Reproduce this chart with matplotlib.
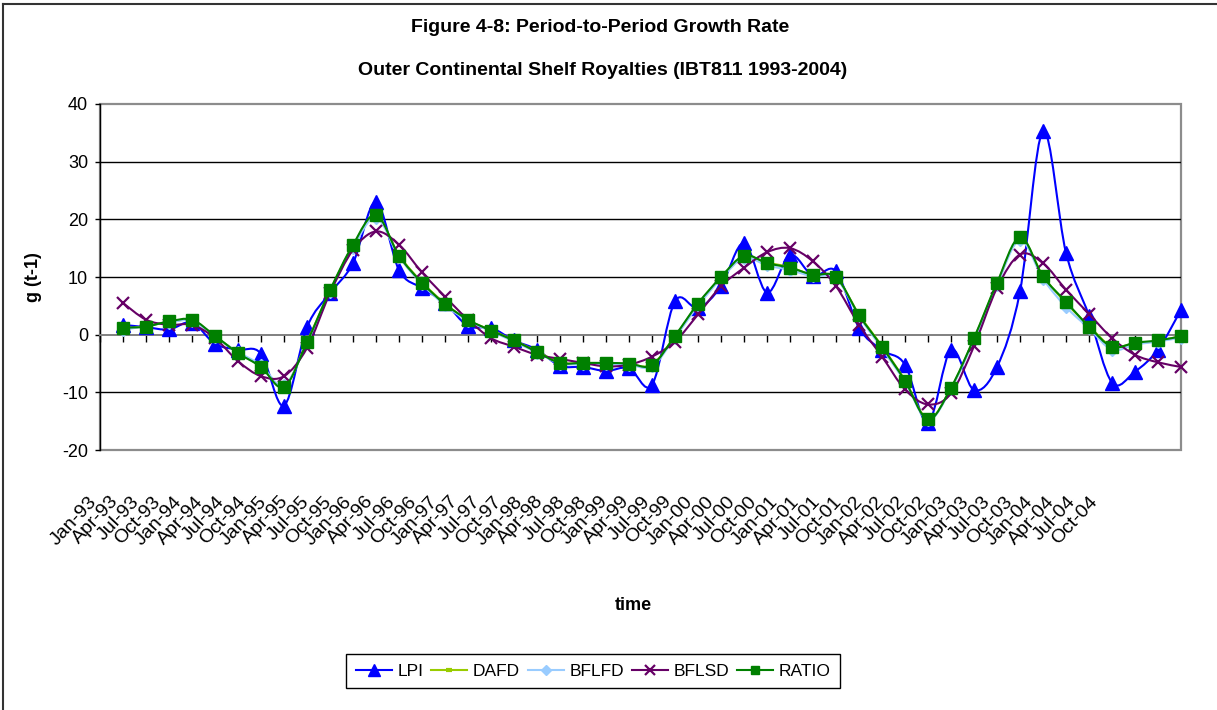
import numpy as np
import matplotlib
matplotlib.use("Agg")
import matplotlib.pyplot as plt
from matplotlib.path import Path
from matplotlib.patches import PathPatch, Rectangle
from matplotlib.lines import Line2D

# ---- data -------------------------------------------------------------
quarters = [
    "Jan-93", "Apr-93", "Jul-93", "Oct-93", "Jan-94", "Apr-94", "Jul-94", "Oct-94",
    "Jan-95", "Apr-95", "Jul-95", "Oct-95", "Jan-96", "Apr-96", "Jul-96", "Oct-96",
    "Jan-97", "Apr-97", "Jul-97", "Oct-97", "Jan-98", "Apr-98", "Jul-98", "Oct-98",
    "Jan-99", "Apr-99", "Jul-99", "Oct-99", "Jan-00", "Apr-00", "Jul-00", "Oct-00",
    "Jan-01", "Apr-01", "Jul-01", "Oct-01", "Jan-02", "Apr-02", "Jul-02", "Oct-02",
    "Jan-03", "Apr-03", "Jul-03", "Oct-03", "Jan-04", "Apr-04", "Jul-04", "Oct-04",
]

# growth rates start with the second quarter (Apr-93)
lpi = [1.7, 1.3, 0.9, 2.1, -1.6, -2.6, -3.3, -12.3, 1.3, 7.2, 12.4, 23.0,
       11.2, 8.1, 5.5, 1.5, 1.2, -1.0, -2.6, -5.4, -5.6, -6.3, -5.8, -8.7,
       5.8, 4.6, 8.4, 15.9, 7.3, 13.8, 10.2, 11.0, 1.2, -2.7, -5.2, -15.3,
       -2.6, -9.6, -5.6, 7.5, 35.3, 14.2, 3.3, -8.3, -6.4, -2.6, 4.3]
dafd = [1.0, 1.5, 2.2, 2.5, -0.3, -3.1, -5.5, -9.0, -1.2, 7.6, 15.4, 20.6,
        13.8, 9.1, 5.4, 2.5, 0.8, -1.0, -2.9, -4.8, -5.0, -4.9, -5.1, -5.2,
        -0.3, 5.3, 9.9, 13.5, 12.5, 11.7, 10.3, 9.9, 3.5, -2.0, -7.9, -14.6,
        -9.3, -0.7, 8.8, 16.7, 10.2, 5.5, 1.5, -2.0, -1.5, -1.1, -0.2]
bflfd = [0.8, 1.5, 2.1, 2.4, -0.4, -3.0, -5.3, -8.8, -1.5, 7.4, 15.1, 20.3,
         13.5, 8.8, 5.1, 2.4, 0.6, -1.2, -3.1, -5.0, -5.1, -5.1, -5.2, -5.5,
         -0.5, 5.0, 9.7, 13.3, 12.0, 11.2, 10.1, 9.8, 3.2, -2.4, -8.2, -14.8,
         -9.4, -0.9, 8.6, 16.4, 9.7, 4.8, 1.1, -2.6, -1.7, -1.2, -0.5]
bflsd = [5.5, 2.6, 1.7, 1.7, -0.6, -4.6, -7.2, -7.2, -2.3, 7.2, 14.7, 17.9,
         15.6, 10.8, 6.6, 2.6, -0.6, -2.1, -3.5, -4.2, -4.9, -5.5, -5.2, -3.8,
         -1.2, 3.5, 8.4, 11.6, 14.3, 15.0, 12.7, 8.4, 1.7, -3.8, -9.5, -12.1,
         -10.2, -2.0, 8.1, 13.9, 12.4, 7.8, 3.6, -0.6, -3.5, -4.8, -5.6]
ratio = [1.2, 1.4, 2.3, 2.6, -0.2, -3.2, -5.6, -9.1, -1.3, 7.7, 15.6, 20.8,
         13.7, 9.0, 5.3, 2.6, 0.7, -1.0, -3.0, -4.9, -4.9, -4.9, -5.0, -5.3,
         -0.2, 5.4, 10.0, 13.7, 12.4, 11.6, 10.4, 10.0, 3.4, -2.1, -8.0, -14.7,
         -9.2, -0.6, 9.0, 16.9, 10.1, 5.7, 1.4, -2.1, -1.4, -1.0, -0.3]

series_names = ["LPI", "DAFD", "BFLFD", "BFLSD", "RATIO"]
series_values = [lpi, dafd, bflfd, bflsd, ratio]
y_ticks = [-20, -10, 0, 10, 20, 30, 40]

# ---- styling ------------------------------------------------------------
plt.rcParams["font.family"] = ["Liberation Sans", "DejaVu Sans"]

styles = {
    "LPI":   dict(color="#0000FF", marker="^", ms=10.0, mew=1.0),
    "DAFD":  dict(color="#99CC00", marker="_", ms=5.0, mew=3.0),
    "BFLFD": dict(color="#99CCFF", marker="D", ms=6.0, mew=1.0),
    "BFLSD": dict(color="#660066", marker="x", ms=9.0, mew=1.6),
    "RATIO": dict(color="#008000", marker="s", ms=8.0, mew=1.0),
}


def smooth_path(xs, ys):
    """Smoothed (Catmull-Rom style Bezier) path through the given points."""
    pts = np.column_stack([xs, ys]).astype(float)
    n = len(pts)
    verts = [pts[0]]
    codes = [Path.MOVETO]
    for i in range(n - 1):
        p0 = pts[i - 1] if i > 0 else pts[i]
        p1 = pts[i]
        p2 = pts[i + 1]
        p3 = pts[i + 2] if i + 2 < n else pts[i + 1]
        verts += [p1 + (p2 - p0) / 6.0, p2 - (p3 - p1) / 6.0, p2]
        codes += [Path.CURVE4] * 3
    return Path(verts, codes)


W, H = 1217, 710
fig = plt.figure(figsize=(W / 100, H / 100), dpi=100)

# plot area in pixels: left 100, right 1181, top 104, bottom 450
ax = fig.add_axes([100 / W, 1 - 450 / H, (1181 - 100) / W, (450 - 104) / H])
ax.set_xlim(0, len(quarters) - 1)
ax.set_ylim(-20, 40)
ax.set_facecolor("white")

# horizontal gridlines
for v in y_ticks:
    if v not in (-20, 0, 40):
        ax.axhline(v, color="black", lw=1.0, zorder=1)

# spines: left is the value axis, bottom is the category axis crossing at 0
for s in ("top", "right"):
    ax.spines[s].set_visible(False)
ax.spines["left"].set_color("black")
ax.spines["left"].set_linewidth(1.0)
ax.spines["bottom"].set_position(("data", 0))
ax.spines["bottom"].set_color("#808080")
ax.spines["bottom"].set_linewidth(1.4)
ax.add_patch(Rectangle((0, 0), 1, 1, transform=ax.transAxes, fill=False,
                       edgecolor="#8c8c8c", lw=1.6, zorder=0.5, clip_on=False))

ax.set_yticks(y_ticks)
ax.set_yticklabels([str(v) for v in y_ticks])
ax.tick_params(axis="y", direction="out", length=3.5, width=1.0, color="black",
               pad=5, labelsize=13)
ax.set_xticks(np.arange(len(quarters)))
ax.tick_params(axis="x", direction="out", length=5, width=1.0, color="black",
               labelbottom=False)

xk = np.arange(1, len(quarters))
handles = []
for z, (name, vals) in enumerate(zip(series_names, series_values)):
    st = styles[name]
    ax.add_patch(PathPatch(smooth_path(xk, vals), fill=False,
                           edgecolor=st["color"], lw=1.5, zorder=3 + 2 * z,
                           capstyle="round", joinstyle="round"))
    ax.plot(xk, vals, linestyle="none", marker=st["marker"], ms=st["ms"],
            color=st["color"], mec=st["color"], mew=st["mew"], zorder=4 + 2 * z,
            clip_on=False)
    handles.append(Line2D([], [], color=st["color"], lw=1.5, marker=st["marker"],
                          ms=st["ms"] * 0.8, mec=st["color"], mew=st["mew"],
                          label=name))

# category labels, set on their own band below the plot area
lab_ax = fig.add_axes([0, 1 - 493 / H, 1, 0.0001])
lab_ax.set_xlim(-88 / 21.28, (W - 88) / 21.28)
lab_ax.set_xticks(np.arange(len(quarters)))
lab_ax.set_xticklabels(quarters, rotation=47, ha="right", va="top",
                       rotation_mode="anchor", fontsize=14)
lab_ax.tick_params(axis="x", length=0, pad=0)
lab_ax.set_yticks([])
for s in lab_ax.spines.values():
    s.set_visible(False)
lab_ax.patch.set_visible(False)

# titles and axis captions
fig.text(600 / W, 1 - 32 / H, "Figure 4-8: Period-to-Period Growth Rate",
         ha="center", va="baseline", fontsize=14, fontweight="bold")
fig.text(603 / W, 1 - 75 / H, "Outer Continental Shelf Royalties (IBT811 1993-2004)",
         ha="center", va="baseline", fontsize=14, fontweight="bold")
fig.text(33 / W, 1 - 277 / H, "g (t-1)", rotation=90, ha="center", va="center",
         fontsize=13, fontweight="bold")
fig.text(633 / W, 1 - 605 / H, "time", ha="center", va="center",
         fontsize=13, fontweight="bold")

leg = fig.legend(handles=handles, loc="center",
                 bbox_to_anchor=(593 / W, 1 - 671 / H), ncol=5,
                 fontsize=12.5, frameon=True, fancybox=False,
                 edgecolor="black", framealpha=1, borderpad=0.55,
                 handlelength=2.1, handletextpad=0.3, columnspacing=0.45,
                 borderaxespad=0)
leg.get_frame().set_linewidth(1.0)

# outer chart frame (top and left edges)
fig.add_artist(Line2D([3 / W, 3 / W], [0, 1 - 4 / H], transform=fig.transFigure,
                      color="#333333", lw=1.5))
fig.add_artist(Line2D([3 / W, 1], [1 - 4 / H, 1 - 4 / H], transform=fig.transFigure,
                      color="#333333", lw=1.5))

fig.savefig("out.png", dpi=100, facecolor="white")
